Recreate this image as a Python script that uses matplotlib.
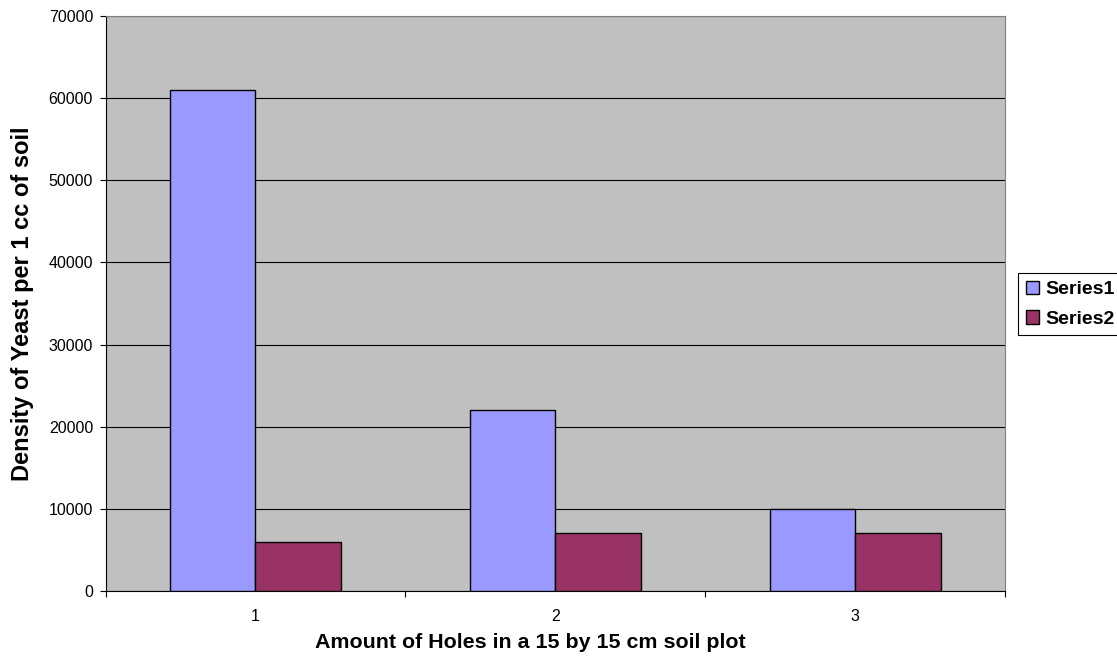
import matplotlib.pyplot as plt
import matplotlib as mpl
import numpy as np

mpl.use("Agg")

plt.rcParams["font.family"] = ["Liberation Sans", "DejaVu Sans"]

categories = ["1", "2", "3"]
series1 = [61000, 22000, 10000]
series2 = [6000, 7000, 7000]
yticks = [0, 10000, 20000, 30000, 40000, 50000, 60000, 70000]

fig = plt.figure(figsize=(11.17, 6.62), dpi=100)
ax = fig.add_axes([0.0945, 0.1073, 0.8052, 0.8685])
ax.set_facecolor("#C0C0C0")

x = np.arange(len(categories))
w = 0.285
ax.bar(x - w / 2, series1, w, color="#9999FF", edgecolor="black", linewidth=1, label="Series1", zorder=3)
ax.bar(x + w / 2, series2, w, color="#993366", edgecolor="black", linewidth=1, label="Series2", zorder=3)

ax.set_xlim(-0.5, 2.5)
ax.set_ylim(0, 70000)
ax.set_yticks(yticks)
ax.yaxis.grid(True, color="black", linewidth=0.8, zorder=1)
ax.set_axisbelow(True)

ax.set_xticks(x)
ax.set_xticklabels(categories)
ax.set_xticks([-0.5, 0.5, 1.5, 2.5], minor=True)
ax.tick_params(axis="x", which="major", length=0, pad=13, labelsize=11.5)
ax.tick_params(axis="x", which="minor", length=4, width=0.8, direction="out")
ax.tick_params(axis="y", length=4, width=0.8, direction="out", labelsize=11.5, pad=5)

for side in ["top", "right"]:
    ax.spines[side].set_color("#808080")
    ax.spines[side].set_linewidth(0.8)
for side in ["left", "bottom"]:
    ax.spines[side].set_color("black")
    ax.spines[side].set_linewidth(0.8)

# axis titles
fig.text(530 / 1117, 1 - 642 / 662, "Amount of Holes in a 15 by 15 cm soil plot",
         fontsize=15.4, fontweight="bold", ha="center", va="center")
fig.text(23 / 1117, 1 - 304 / 662, "Density of Yeast per 1 cc of soil",
         fontsize=17, fontweight="bold", ha="center", va="center", rotation=90)

leg = fig.legend(loc="upper left", bbox_to_anchor=(1018 / 1117, 1 - 273 / 662),
                 frameon=True, fancybox=False, edgecolor="black", framealpha=1,
                 prop={"weight": "bold", "size": 14}, handlelength=0.7, handleheight=0.7,
                 handletextpad=0.3, borderpad=0.4, labelspacing=0.6, borderaxespad=0)
leg.get_frame().set_linewidth(0.8)

fig.savefig("out.png", dpi=100)
